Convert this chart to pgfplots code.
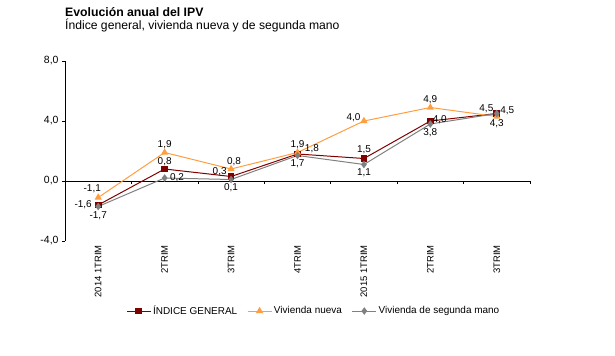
\documentclass[border=0pt]{standalone}
\usepackage{pgfplots}
\pgfplotsset{compat=1.18}
\usepackage{fontspec}
\setmainfont{Liberation Sans}
\definecolor{cidx}{RGB}{128,0,0}
\definecolor{cnew}{RGB}{255,158,64}
\definecolor{csec}{RGB}{128,128,128}
\DeclareRobustCommand\IND{ÍNDICE GENERAL}
\begin{document}
\begin{tikzpicture}
\useasboundingbox (0,0) rectangle (615bp,356bp);
\node[anchor=base west, inner sep=0pt, font=\bfseries\fontsize{12.3}{14}\selectfont] at (65bp,339.3bp) {Evolución anual del IPV};
\node[anchor=base west, inner sep=0pt, font=\fontsize{12.2}{14}\selectfont] at (65bp,326bp) {Índice general, vivienda nueva y de segunda mano};
\begin{axis}[
  at={(65bp,115bp)}, anchor=south west,
  scale only axis, width=465bp, height=180bp,
  xmin=-0.5, xmax=6.5, ymin=-4, ymax=8,
  axis y line*=left, axis x line*=bottom,
  x axis line style={draw=none},
  ytick={-4,0,4,8},
  yticklabels={{-4,0},{0,0},{4,0},{8,0}},
  xtick={0,...,6},
  xticklabels={2014 1TRIM,2TRIM,3TRIM,4TRIM,2015 1TRIM,2TRIM,3TRIM},
  xtick style={draw=none},
  xticklabel style={rotate=90, anchor=east, font=\fontsize{9.5}{11}\selectfont, inner sep=1pt},
  yticklabel style={font=\fontsize{10.5}{12}\selectfont},
  tick align=outside, major tick length=3bp,
  every tick/.style={black, line width=0.6pt},
  y axis line style={line width=0.6pt},
  legend style={draw=none, at={(0.535,-0.389)}, anchor=center, font=\fontsize{10}{12}\selectfont, /tikz/every even column/.append style={column sep=8pt}},
  legend columns=3,
  legend image code/.code={\draw[mark repeat=2,mark phase=2] plot coordinates {(0cm,0cm)(0.42cm,0cm)(0.84cm,0cm)};},
  nodes near coords={\pgfplotspointmeta},
  point meta=explicit symbolic,
  visualization depends on={value \thisrow{anc}\as\myanc},
  visualization depends on={value \thisrow{dx}\as\mydx},
  visualization depends on={value \thisrow{dy}\as\mydy},
  every node near coord/.append style={anchor=\myanc, xshift=\mydx pt, yshift=\mydy pt, font=\fontsize{10}{12}\selectfont, inner sep=1pt, text=black},
  clip=false,
]
\draw[line width=0.6pt] (axis cs:-0.5,0) -- (axis cs:6.5,0);
\draw[line width=0.6pt] (axis cs:0.5,0) -- ([yshift=-3bp]axis cs:0.5,0);
\draw[line width=0.6pt] (axis cs:1.5,0) -- ([yshift=-3bp]axis cs:1.5,0);
\draw[line width=0.6pt] (axis cs:2.5,0) -- ([yshift=-3bp]axis cs:2.5,0);
\draw[line width=0.6pt] (axis cs:3.5,0) -- ([yshift=-3bp]axis cs:3.5,0);
\draw[line width=0.6pt] (axis cs:4.5,0) -- ([yshift=-3bp]axis cs:4.5,0);
\draw[line width=0.6pt] (axis cs:5.5,0) -- ([yshift=-3bp]axis cs:5.5,0);
\draw[line width=0.6pt] (axis cs:6.5,0) -- ([yshift=-3bp]axis cs:6.5,0);
\addplot[color=cidx, line width=1pt, mark=square*, mark size=2.8pt, mark options={fill=cidx}]
 table[x=x,y=y,meta=lab]{
x y lab anc dx dy
0 -1.6 {-1,6} east -5 0
1 0.8 {0,8} south 0 2
2 0.3 {0,3} east -3 5
3 1.8 {1,8} {south west} 6 0
4 1.5 {1,5} south 0 3
5 4.0 {4,0} {south west} 1 -4
6 4.5 {4,5} west 2 3
};
\addlegendentry{\IND}
\addplot[color=cnew, line width=1pt, mark=triangle*, mark size=3.2pt, mark options={fill=cnew}]
 table[x=x,y=y,meta=lab]{
x y lab anc dx dy
0 -1.1 {-1,1} south -6 3
1 1.9 {1,9} south 0 2
2 0.8 {0,8} south 3 2
3 1.9 {1,9} south 0 2
4 4.0 {4,0} east -2 3
5 4.9 {4,9} south 0 2
6 4.3 {4,3} north 0 -2
};
\addlegendentry{Vivienda nueva}
\addplot[color=csec, line width=1pt, mark=diamond*, mark size=3pt, mark options={fill=csec}]
 table[x=x,y=y,meta=lab]{
x y lab anc dx dy
0 -1.7 {-1,7} north 0 -4
1 0.2 {0,2} west 4 0
2 0.1 {0,1} north 0 -3
3 1.7 {1,7} north 0 -3
4 1.1 {1,1} north 0 -3
5 3.8 {3,8} north 0 -3
6 4.5 {4,5} {south east} -2 -1
};
\addlegendentry{Vivienda de segunda mano}
\end{axis}
\end{tikzpicture}
\end{document}
